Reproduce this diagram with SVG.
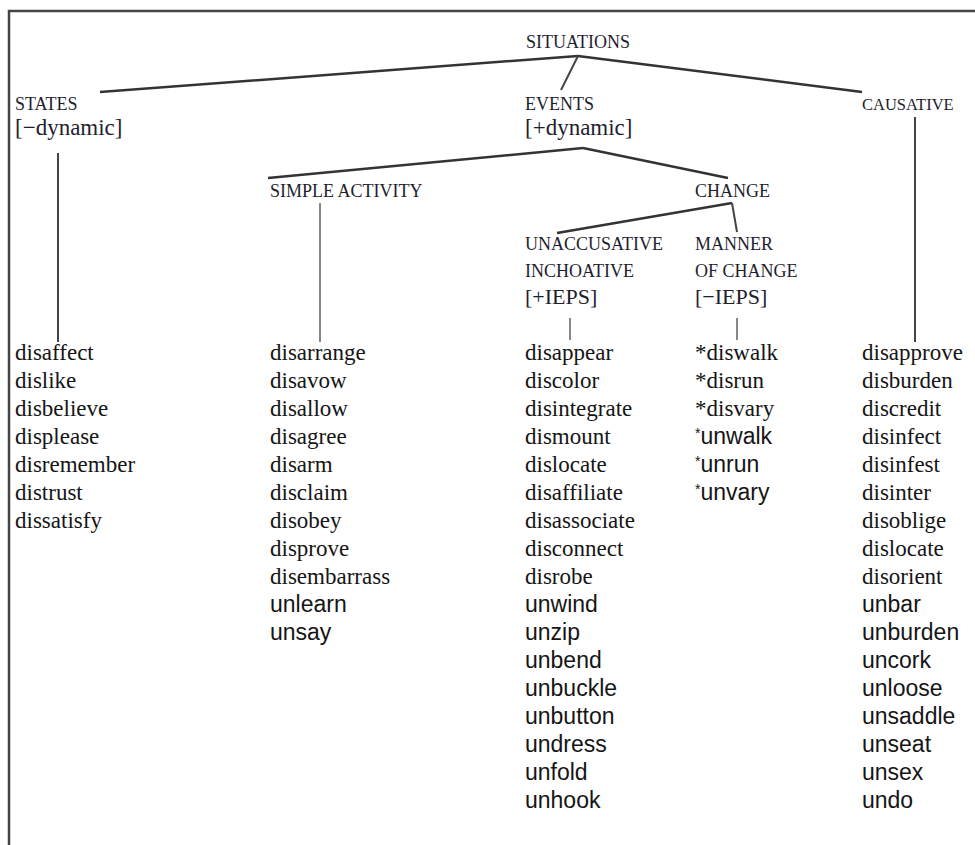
<svg xmlns="http://www.w3.org/2000/svg" width="975" height="845" viewBox="0 0 975 845">
<style>
.lbl{font-family:"Liberation Serif","Times New Roman",serif;font-size:18px;fill:#1e1e2e;}
.br{font-family:"Liberation Serif","Times New Roman",serif;font-size:22px;fill:#1e1e2e;}
.bd{font-size:23px;}
.w{font-family:"Liberation Serif","Times New Roman",serif;font-size:23px;fill:#151515;}
.s{font-family:"Liberation Sans",Arial,sans-serif;font-size:23px;fill:#151515;}
.e{stroke:#333;stroke-width:2.5;fill:none;}
.v{stroke:#444;stroke-width:2;fill:none;}
.t{stroke:#888;stroke-width:2;fill:none;}
.frame{stroke:#444;stroke-width:2.5;fill:none;}
</style>
<rect width="975" height="845" fill="#fff"/>
<path class="frame" d="M9,845 V11 H975"/>
<g id="connectors">
<line class="e" x1="578" y1="56" x2="100" y2="92"/>
<line class="v" x1="578" y1="56" x2="561" y2="90"/>
<line class="e" x1="578" y1="56" x2="862" y2="92"/>
<line class="v" x1="58" y1="153" x2="58" y2="342"/>
<line class="e" x1="583" y1="148" x2="268" y2="178"/>
<line class="e" x1="583" y1="148" x2="728" y2="178"/>
<line class="t" x1="320" y1="203" x2="320" y2="342"/>
<line class="e" x1="732" y1="203" x2="557" y2="233"/>
<line class="v" x1="732" y1="203" x2="737" y2="232"/>
<line class="t" x1="570" y1="318" x2="570" y2="340"/>
<line class="t" x1="737" y1="318" x2="737" y2="340"/>
<line class="v" x1="915" y1="117" x2="915" y2="342"/>
</g>
<g id="situations"><text class="lbl" x="526" y="48">SITUATIONS</text></g>
<g id="states"><text class="lbl" x="15" y="110">STATES</text><text class="br bd" x="15" y="135">[−dynamic]</text></g>
<g id="events"><text class="lbl" x="525" y="110">EVENTS</text><text class="br bd" x="525" y="135">[+dynamic]</text></g>
<g id="causative"><text class="lbl" x="862" y="110" style="font-size:16.5px">CAUSATIVE</text></g>
<g id="simple-activity"><text class="lbl" x="270" y="197">SIMPLE ACTIVITY</text></g>
<g id="change"><text class="lbl" x="695" y="197">CHANGE</text></g>
<g id="unaccusative"><text class="lbl" x="525" y="250">UNACCUSATIVE</text><text class="lbl" x="525" y="277">INCHOATIVE</text><text class="br" x="525" y="304">[+IEPS]</text></g>
<g id="manner"><text class="lbl" x="695" y="250">MANNER</text><text class="lbl" x="695" y="277">OF CHANGE</text><text class="br" x="695" y="304">[−IEPS]</text></g>
<g id="list-states">
<text class="w" x="15" y="360">disaffect</text>
<text class="w" x="15" y="388">dislike</text>
<text class="w" x="15" y="416">disbelieve</text>
<text class="w" x="15" y="444">displease</text>
<text class="w" x="15" y="472">disremember</text>
<text class="w" x="15" y="500">distrust</text>
<text class="w" x="15" y="528">dissatisfy</text>
</g>
<g id="list-simple">
<text class="w" x="270" y="360">disarrange</text>
<text class="w" x="270" y="388">disavow</text>
<text class="w" x="270" y="416">disallow</text>
<text class="w" x="270" y="444">disagree</text>
<text class="w" x="270" y="472">disarm</text>
<text class="w" x="270" y="500">disclaim</text>
<text class="w" x="270" y="528">disobey</text>
<text class="w" x="270" y="556">disprove</text>
<text class="w" x="270" y="584">disembarrass</text>
<text class="s" x="270" y="612">unlearn</text>
<text class="s" x="270" y="640">unsay</text>
</g>
<g id="list-unaccusative">
<text class="w" x="525" y="360">disappear</text>
<text class="w" x="525" y="388">discolor</text>
<text class="w" x="525" y="416">disintegrate</text>
<text class="w" x="525" y="444">dismount</text>
<text class="w" x="525" y="472">dislocate</text>
<text class="w" x="525" y="500">disaffiliate</text>
<text class="w" x="525" y="528">disassociate</text>
<text class="w" x="525" y="556">disconnect</text>
<text class="w" x="525" y="584">disrobe</text>
<text class="s" x="525" y="612">unwind</text>
<text class="s" x="525" y="640">unzip</text>
<text class="s" x="525" y="668">unbend</text>
<text class="s" x="525" y="696">unbuckle</text>
<text class="s" x="525" y="724">unbutton</text>
<text class="s" x="525" y="752">undress</text>
<text class="s" x="525" y="780">unfold</text>
<text class="s" x="525" y="808">unhook</text>
</g>
<g id="list-manner">
<text class="w" x="695" y="360">*diswalk</text>
<text class="w" x="695" y="388">*disrun</text>
<text class="w" x="695" y="416">*disvary</text>
<text class="s" x="695" y="444"><tspan style="font-size:14px" dy="-6">*</tspan><tspan dy="6">unwalk</tspan></text>
<text class="s" x="695" y="472"><tspan style="font-size:14px" dy="-6">*</tspan><tspan dy="6">unrun</tspan></text>
<text class="s" x="695" y="500"><tspan style="font-size:14px" dy="-6">*</tspan><tspan dy="6">unvary</tspan></text>
</g>
<g id="list-causative">
<text class="w" x="862" y="360">disapprove</text>
<text class="w" x="862" y="388">disburden</text>
<text class="w" x="862" y="416">discredit</text>
<text class="w" x="862" y="444">disinfect</text>
<text class="w" x="862" y="472">disinfest</text>
<text class="w" x="862" y="500">disinter</text>
<text class="w" x="862" y="528">disoblige</text>
<text class="w" x="862" y="556">dislocate</text>
<text class="w" x="862" y="584">disorient</text>
<text class="s" x="862" y="612">unbar</text>
<text class="s" x="862" y="640">unburden</text>
<text class="s" x="862" y="668">uncork</text>
<text class="s" x="862" y="696">unloose</text>
<text class="s" x="862" y="724">unsaddle</text>
<text class="s" x="862" y="752">unseat</text>
<text class="s" x="862" y="780">unsex</text>
<text class="s" x="862" y="808">undo</text>
</g>
</svg>
